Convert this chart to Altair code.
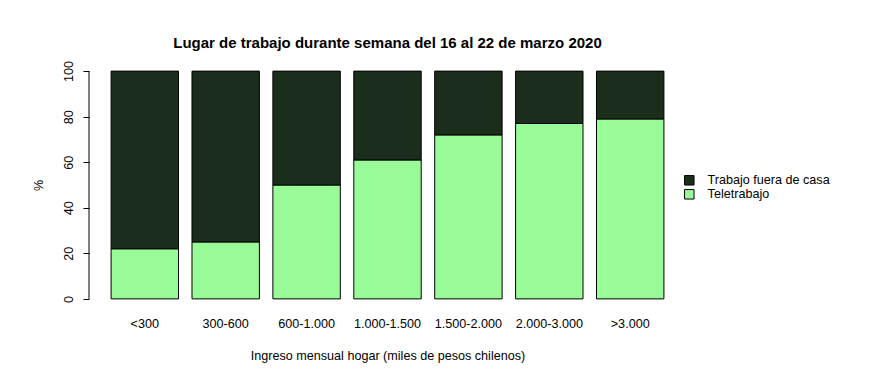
import altair as alt
import pandas as pd

categorias = ["<300", "300-600", "600-1.000", "1.000-1.500", "1.500-2.000", "2.000-3.000", ">3.000"]
teletrabajo = [22, 25, 50, 61, 72, 77, 79]
fuera_de_casa = [78, 75, 50, 39, 28, 23, 21]
series = ["Trabajo fuera de casa", "Teletrabajo"]
colores = ["#1B2E1B", "#98FB98"]
y_ticks = [0, 20, 40, 60, 80, 100]

rows = []
for c, t, f in zip(categorias, teletrabajo, fuera_de_casa):
    rows.append({"ingreso": c, "lugar": "Teletrabajo", "pct": t, "orden": 0})
    rows.append({"ingreso": c, "lugar": "Trabajo fuera de casa", "pct": f, "orden": 1})
df = pd.DataFrame(rows)

FONT = "Liberation Sans"
FS = 12.6

yscale = alt.Scale(domain=[-4, 104], nice=False, zero=False)

bars = alt.Chart(df).mark_bar(stroke="black", strokeWidth=1).encode(
    x=alt.X(
        "ingreso:N",
        sort=categorias,
        scale=alt.Scale(paddingInner=0.1667, paddingOuter=0.273),
        axis=alt.Axis(
            title="Ingreso mensual hogar (miles de pesos chilenos)",
            labelAngle=0,
            ticks=False,
            tickSize=0,
            domain=False,
            labelPadding=9,
            labelFontSize=FS,
            labelColor="black",
            titleFontSize=FS,
            titleFontWeight="normal",
            titleColor="black",
            titleBaseline="alphabetic",
            titleY=51,
        ),
    ),
    y=alt.Y(
        "pct:Q",
        stack="zero",
        scale=yscale,
        axis=alt.Axis(
            title="%",
            values=y_ticks,
            grid=False,
            domain=False,
            tickSize=6,
            tickColor="black",
            labelAngle=-90,
            labelAlign="center",
            labelBaseline="bottom",
            labelPadding=8,
            labelFontSize=FS,
            labelColor="black",
            titleFontSize=FS,
            titleFontWeight="normal",
            titleColor="black",
            titleAngle=-90,
            titleAlign="center",
            titleBaseline="middle",
            titleX=-51,
            titleY=123,
        ),
    ),
    color=alt.Color(
        "lugar:N",
        scale=alt.Scale(domain=series, range=colores),
        legend=alt.Legend(
            title=None,
            orient="none",
            legendX=594,
            legendY=112,
            symbolType="square",
            symbolSize=90,
            symbolStrokeColor="black",
            symbolStrokeWidth=1,
            symbolOpacity=1,
            labelFontSize=FS,
            labelColor="black",
            labelOffset=12,
            rowPadding=-1.3,
            padding=0,
        ),
    ),
    order=alt.Order("orden:Q"),
)

axis_line = alt.Chart(alt.Data(values=[{"a": 0}])).mark_rule(color="black", strokeWidth=1).encode(
    x=alt.value(0),
    y=alt.datum(0, scale=yscale),
    y2=alt.datum(100),
)

chart = (
    alt.layer(bars, axis_line)
    .properties(
        width=597,
        height=246,
        autosize=alt.AutoSizeParams(type="none"),
        padding={"left": 81, "top": 54, "right": 184, "bottom": 71},
        title=alt.Title(
            "Lugar de trabajo durante semana del 16 al 22 de marzo 2020",
            fontSize=15,
            fontWeight="bold",
            color="black",
            anchor="middle",
            frame="group",
            baseline="alphabetic",
            offset=-2,
        ),
    )
    .configure(font=FONT)
    .configure_view(stroke=None)
)

chart.save("out.html", embed_options={"renderer": "svg", "actions": False})
